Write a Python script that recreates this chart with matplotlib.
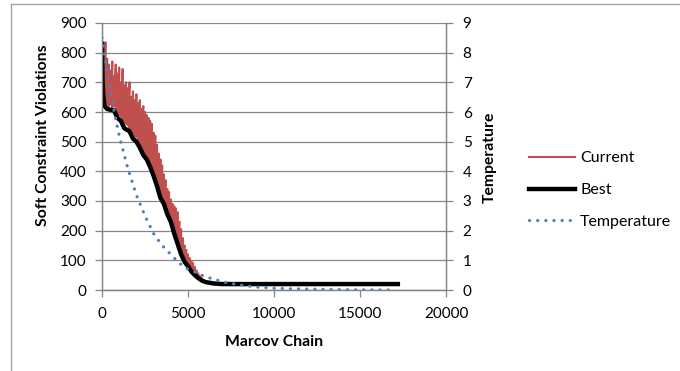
import numpy as np
import matplotlib.pyplot as plt
from matplotlib.lines import Line2D

plt.rcParams["font.family"] = ["Lato", "DejaVu Sans"]

# ---- data ---------------------------------------------------------------
# Current solution: upper / lower extent of the noisy trace at each step
CURRENT_X = [0, 100, 200, 300, 400, 500, 600, 700, 800, 900,
             1000, 1100, 1200, 1300, 1400, 1500, 1600, 1700, 1800, 1900,
             2000, 2100, 2200, 2300, 2400, 2500, 2600, 2700, 2800, 2900,
             3000, 3100, 3200, 3300, 3400, 3500, 3600, 3700, 3800, 3900,
             4000, 4100, 4200, 4300, 4400, 4500, 4600, 4700, 4800, 4900,
             5000, 5100, 5200, 5300, 5400, 5500, 5600, 5700, 5800, 5900,
             6000]
CURRENT_HI = [760, 800, 835, 780, 760, 740, 770, 720, 760, 730,
              750, 700, 745, 690, 700, 680, 700, 650, 670, 640,
              660, 630, 640, 610, 620, 600, 590, 580, 570, 560,
              530, 520, 490, 460, 440, 420, 390, 370, 340, 330,
              305, 290, 282, 275, 262, 230, 205, 175, 150, 135,
              120, 108, 98, 90, 78, 66, 56, 47, 40, 33,
              28]
CURRENT_LO = [650, 640, 630, 625, 620, 625, 615, 620, 600, 595,
              590, 585, 570, 565, 560, 555, 545, 540, 530, 520,
              515, 505, 495, 480, 470, 460, 450, 440, 430, 415,
              400, 385, 370, 350, 330, 315, 300, 285, 270, 255,
              240, 222, 205, 188, 170, 150, 135, 120, 108, 98,
              88, 78, 70, 62, 55, 48, 42, 37, 33, 29,
              26]
CURRENT_TAIL_X = [6500, 7000, 17200]
CURRENT_TAIL = [23, 21, 21]

# Best solution found so far
BEST_X = [0, 30, 80, 150, 300, 700, 900, 1100, 1300, 1600, 1800, 2000,
          2200, 2400, 2600, 2800, 3000, 3200, 3400, 3600, 3800, 4000,
          4200, 4400, 4600, 4800, 5000, 5200, 5400, 5600, 5800, 6000,
          6500, 7000, 17200]
BEST = [830, 700, 650, 620, 610, 605, 580, 570, 545, 535, 510, 500,
        480, 455, 440, 415, 385, 350, 310, 290, 255, 230,
        190, 155, 120, 95, 80, 62, 50, 40, 32, 27,
        22, 20, 20]

# Annealing temperature (right axis)
TEMP_X = [0, 500, 1000, 1500, 2000, 2500, 3000, 3500, 4000, 4500, 5000,
          5500, 6000, 7000, 8000, 9000, 10000, 11000, 12000, 14000, 17000]
TEMP = [8.5, 6.6, 5.2, 4.1, 3.2, 2.5, 1.9, 1.5, 1.2, 0.9, 0.7,
        0.58, 0.45, 0.28, 0.17, 0.1, 0.06, 0.04, 0.03, 0.01, 0.0]

GRAY = "#868686"
RED = "#C0504D"
BLUE = "#4F81BD"
TICK_FS = 11
LABEL_FS = 11.3

fig = plt.figure(figsize=(6.8, 3.71), dpi=100)
ax = fig.add_axes([102 / 680, 1 - 290 / 371, 344 / 680, 267 / 371])
ax2 = ax.twinx()

# interleave upper/lower values so the trace zig-zags at every step
cx = np.repeat(CURRENT_X, 2)
cy = np.column_stack([CURRENT_HI, CURRENT_LO]).ravel()
cx = np.concatenate([cx, CURRENT_TAIL_X])
cy = np.concatenate([cy, CURRENT_TAIL])

h_cur, = ax.plot(cx, cy, color=RED, lw=1.5, label="Current", zorder=3)
h_best, = ax.plot(BEST_X, BEST, color="black", lw=3.2, label="Best", zorder=4)
h_temp, = ax2.plot(TEMP_X, TEMP, color=BLUE, lw=2.3, linestyle=(0, (0.05, 2.5)),
                   dash_capstyle="round", label="Temperature")

ax.set_xlim(0, 20000)
ax.set_ylim(0, 900)
ax2.set_ylim(0, 9)
ax.set_xticks([0, 5000, 10000, 15000, 20000])
ax.set_yticks(range(0, 901, 100))
ax2.set_yticks(range(0, 10))

ax.grid(axis="y", color=GRAY, lw=0.9)
ax.set_axisbelow(True)
for a in (ax, ax2):
    a.spines["top"].set_visible(False)
    for side in ("left", "right", "bottom"):
        a.spines[side].set_color(GRAY)
        a.spines[side].set_linewidth(0.9)
    a.tick_params(direction="out", length=5, width=0.9, color=GRAY,
                  labelsize=TICK_FS, labelcolor="black")
ax.tick_params(axis="x", pad=7)
ax.tick_params(axis="y", pad=6)
ax2.tick_params(axis="y", pad=7)

ax.set_xlabel("Marcov Chain", fontsize=LABEL_FS, fontweight="bold")
ax.set_ylabel("Soft Constraint Violations", fontsize=LABEL_FS, fontweight="bold")
ax2.set_ylabel("Temperature", fontsize=LABEL_FS, fontweight="bold")
ax.xaxis.set_label_coords(0.5, -0.167)
ax.yaxis.set_label_coords(-0.151, 0.58)
ax2.yaxis.set_label_coords(1.108, 0.498)

fig.legend(handles=[h_cur, h_best, h_temp], loc="center left",
           bbox_to_anchor=(529 / 680, 1 - 190 / 371), frameon=False,
           fontsize=11.5, handlelength=2.9, handletextpad=0.3,
           labelspacing=1.1, borderpad=0, borderaxespad=0)

# chart area border
fig.add_artist(Line2D([11 / 680, 11 / 680], [0, 1 - 4 / 371], color="#A6A6A6", lw=1.0))
fig.add_artist(Line2D([11 / 680, 1], [1 - 4 / 371, 1 - 4 / 371], color="#A6A6A6", lw=1.0))

fig.savefig("out.png", dpi=100)
